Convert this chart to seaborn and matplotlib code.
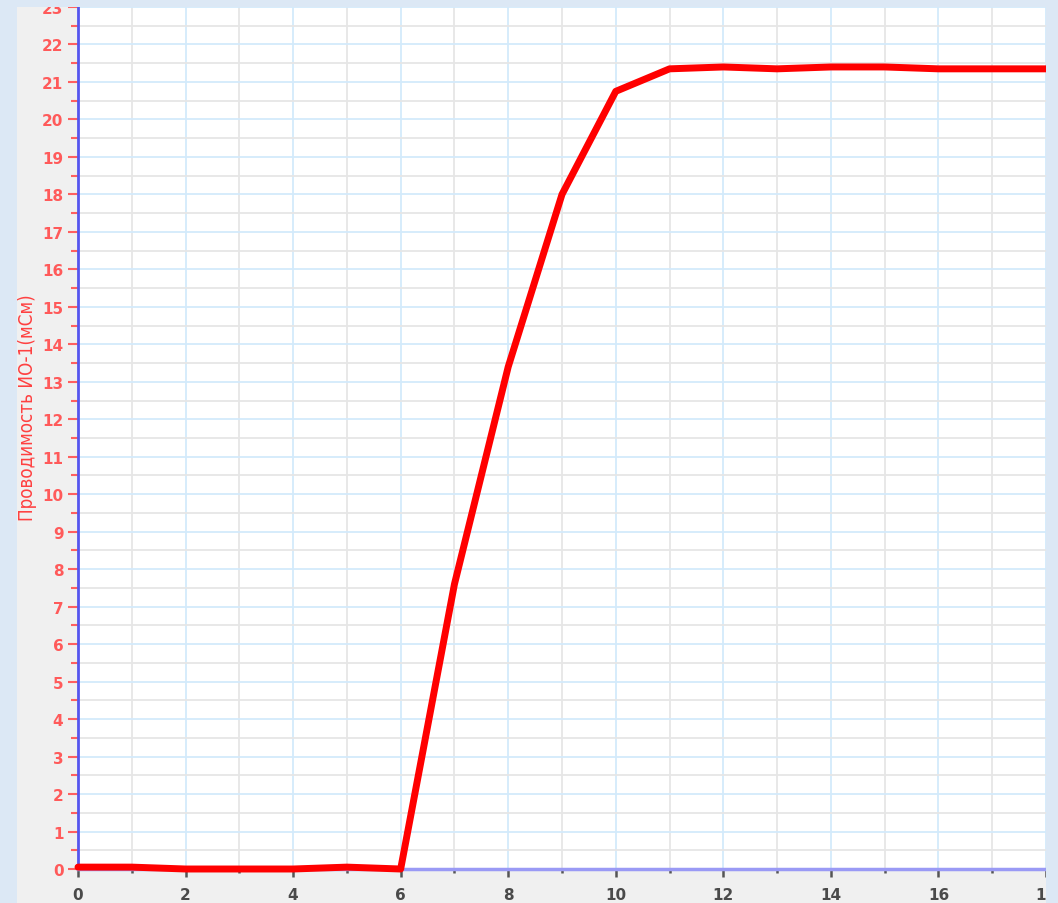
import matplotlib
matplotlib.use("Agg")
import matplotlib.pyplot as plt
import seaborn as sns
import numpy as np
import pandas as pd
from matplotlib.patches import Rectangle
from matplotlib.ticker import MultipleLocator

# time (x) and conductivity (y)
time_pts = [0, 1, 2, 3, 4, 5, 6, 7, 8, 9, 10, 11, 12, 13, 14, 15, 16, 17, 18]
conductivity = [0.05, 0.05, 0.0, 0.0, 0.0, 0.05, 0.0, 7.6, 13.4, 18.0, 20.75,
                21.35, 21.4, 21.35, 21.4, 21.4, 21.35, 21.35, 21.35]
y_label = "Проводимость ИО-1(мСм)"

df = pd.DataFrame({"t": time_pts, "g": conductivity})

sns.set_style("white")
plt.rcParams['font.family'] = ['DejaVu Sans']

fig = plt.figure(figsize=(10.58, 9.04), dpi=100, facecolor="#dce8f5")
W, H = 1058, 904
border = "#dce8f5"
# grey panel behind axes and tick labels
fig.patches.append(Rectangle((17 / W, 0), (1046 - 17) / W, (H - 8) / H,
                             transform=fig.transFigure, facecolor="#f0f0f0",
                             edgecolor="none", zorder=-1))
# borders covering the cut tick labels (right and top)
fig.patches.append(Rectangle((1046 / W, 0), 12 / W, 1,
                             transform=fig.transFigure, facecolor=border,
                             edgecolor="none", zorder=5))
fig.patches.append(Rectangle((0, (H - 8) / H), 1, 8 / H,
                             transform=fig.transFigure, facecolor=border,
                             edgecolor="none", zorder=5))

ax = fig.add_axes([78 / W, 34 / H, (1046 - 78) / W, (870 - 8) / H])
ax.set_facecolor("white")

sns.lineplot(data=df, x="t", y="g", ax=ax, color="#ff0000", linewidth=5,
             zorder=3, clip_on=False)

ax.set_xlim(0, 18)
ax.set_ylim(0, 23)
ax.xaxis.set_major_locator(MultipleLocator(2))
ax.xaxis.set_minor_locator(MultipleLocator(1))
ax.yaxis.set_major_locator(MultipleLocator(1))
ax.yaxis.set_minor_locator(MultipleLocator(0.5))

ax.grid(which="major", color="#d3eafb", linewidth=1.3)
ax.grid(which="minor", color="#e6e6e6", linewidth=1.3)
ax.set_axisbelow(True)

for s in ["top", "right"]:
    ax.spines[s].set_visible(False)
ax.spines["left"].set_color("#5555ee")
ax.spines["left"].set_linewidth(2)
ax.spines["bottom"].set_color("#9a9af5")
ax.spines["bottom"].set_linewidth(2.5)

ax.tick_params(axis="y", which="both", left=True)
ax.tick_params(axis="x", which="both", bottom=True)
ax.tick_params(axis="y", which="major", length=7.5, width=1.5, color="#ff6060",
               labelcolor="#ff5a5a", labelsize=11, pad=3)
ax.tick_params(axis="y", which="minor", length=5, width=1.5, color="#ff6060")
ax.tick_params(axis="x", which="major", length=6, width=1.8, color="#555555",
               labelcolor="#4a4a4a", labelsize=11, pad=7)
ax.tick_params(axis="x", which="minor", length=3, width=1.8, color="#555555")
for lbl in ax.get_xticklabels():
    lbl.set_fontweight("bold")
ax.set_yticklabels([str(int(v)) for v in ax.get_yticks()], fontweight="bold")

ax.set_xlabel("")
ax.set_ylabel(y_label, color="#ff4040", fontsize=13.5, fontstretch="condensed")
ax.yaxis.set_label_coords(-0.042, 0.536)

fig.savefig("out.png", dpi=100, facecolor=fig.get_facecolor())
